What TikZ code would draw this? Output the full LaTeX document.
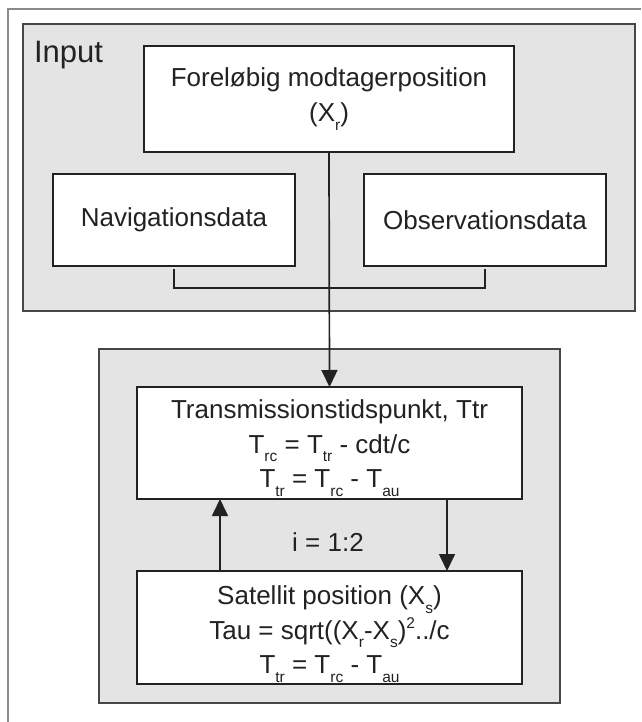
\documentclass[tikz,border=0pt]{standalone}
\usepackage{fontspec}
\setmainfont{Liberation Sans}
\usetikzlibrary{arrows.meta}
\definecolor{panelgray}{HTML}{E4E4E4}
\definecolor{inkgray}{HTML}{222222}
\definecolor{framegray}{HTML}{8A8A8A}
% lowered small subscript and raised small superscript, as set in the boxes
\newcommand\lowsub[1]{\raisebox{-0.34em}{\fontsize{15.5}{15.5}\selectfont #1}}
\newcommand\highsup[1]{\raisebox{0.42em}{\fontsize{15.5}{15.5}\selectfont #1}}
% extra head room above a first line, pushing a text block slightly down
\newcommand\headroom[1]{\rule{0pt}{#1}}
\begin{document}
\begin{tikzpicture}[x=1pt,y=-1pt,
  every node/.style={inner sep=0pt,outer sep=0pt,text=inkgray,
    font=\fontsize{26}{34.5}\selectfont},
  panel/.style={draw=black!72,line width=2pt,fill=panelgray},
  whitebox/.style={draw=inkgray,line width=2.5pt,fill=white,align=center},
  conn/.style={draw=inkgray,line width=1.7pt},
  arr/.style={conn,-{Triangle[length=17pt,width=16pt]}}]
\useasboundingbox (0,0) rectangle (641,722);
\fill[white] (0,0) rectangle (641,722);

% outer frame (runs off the right and bottom edges)
\draw[framegray,line width=2pt] (8,722) -- (8,9) -- (641,9);

% grey group panels
\node[panel,minimum width=612.5pt,minimum height=286.5pt] (input) at (328.75,167.25) {};
\node[panel,minimum width=461pt,minimum height=354pt] (loop) at (329.5,526) {};

\node[anchor=base west,font=\fontsize{31}{31}\selectfont] (inputlbl) at (34,63) {Input};

% input boxes
\node[whitebox,minimum width=370pt,minimum height=106pt] (fore) at (329,99)
  {Foreløbig modtagerposition\\(X\lowsub{r})};
\node[whitebox,minimum width=242pt,minimum height=92pt] (nav) at (174,220) {Navigationsdata};
\node[whitebox,minimum width=242pt,minimum height=92pt] (obs) at (485,220) {Observationsdata};

% iteration boxes
\node[whitebox,minimum width=385pt,minimum height=112pt] (trans) at (329.5,443)
  {\headroom{29pt}Transmissionstidspunkt, Ttr\\
   T\lowsub{rc} = T\lowsub{tr} - cdt/c\\
   T\lowsub{tr} = T\lowsub{rc} - T\lowsub{au}};
\node[whitebox,minimum width=385pt,minimum height=113pt] (sat) at (329.5,627.5)
  {\headroom{32pt}Satellit position (X\lowsub{s})\\
   Tau = sqrt((X\lowsub{r}-X\lowsub{s})\highsup{2}../c\\
   T\lowsub{tr} = T\lowsub{rc} - T\lowsub{au}};

\node (iter) at (328,542) {i = 1:2};

% connectors
\draw[conn] ([yshift=-3pt]nav.south) -- ++(0,19) -| ([yshift=-3pt]obs.south);
\draw[arr] (fore.south) -- (trans.north);
\coordinate (lx) at (220,0);
\coordinate (rx) at (447,0);
\draw[arr] (sat.north -| lx) -- (trans.south -| lx);
\draw[arr] (trans.south -| rx) -- (sat.north -| rx);
\end{tikzpicture}
\end{document}
